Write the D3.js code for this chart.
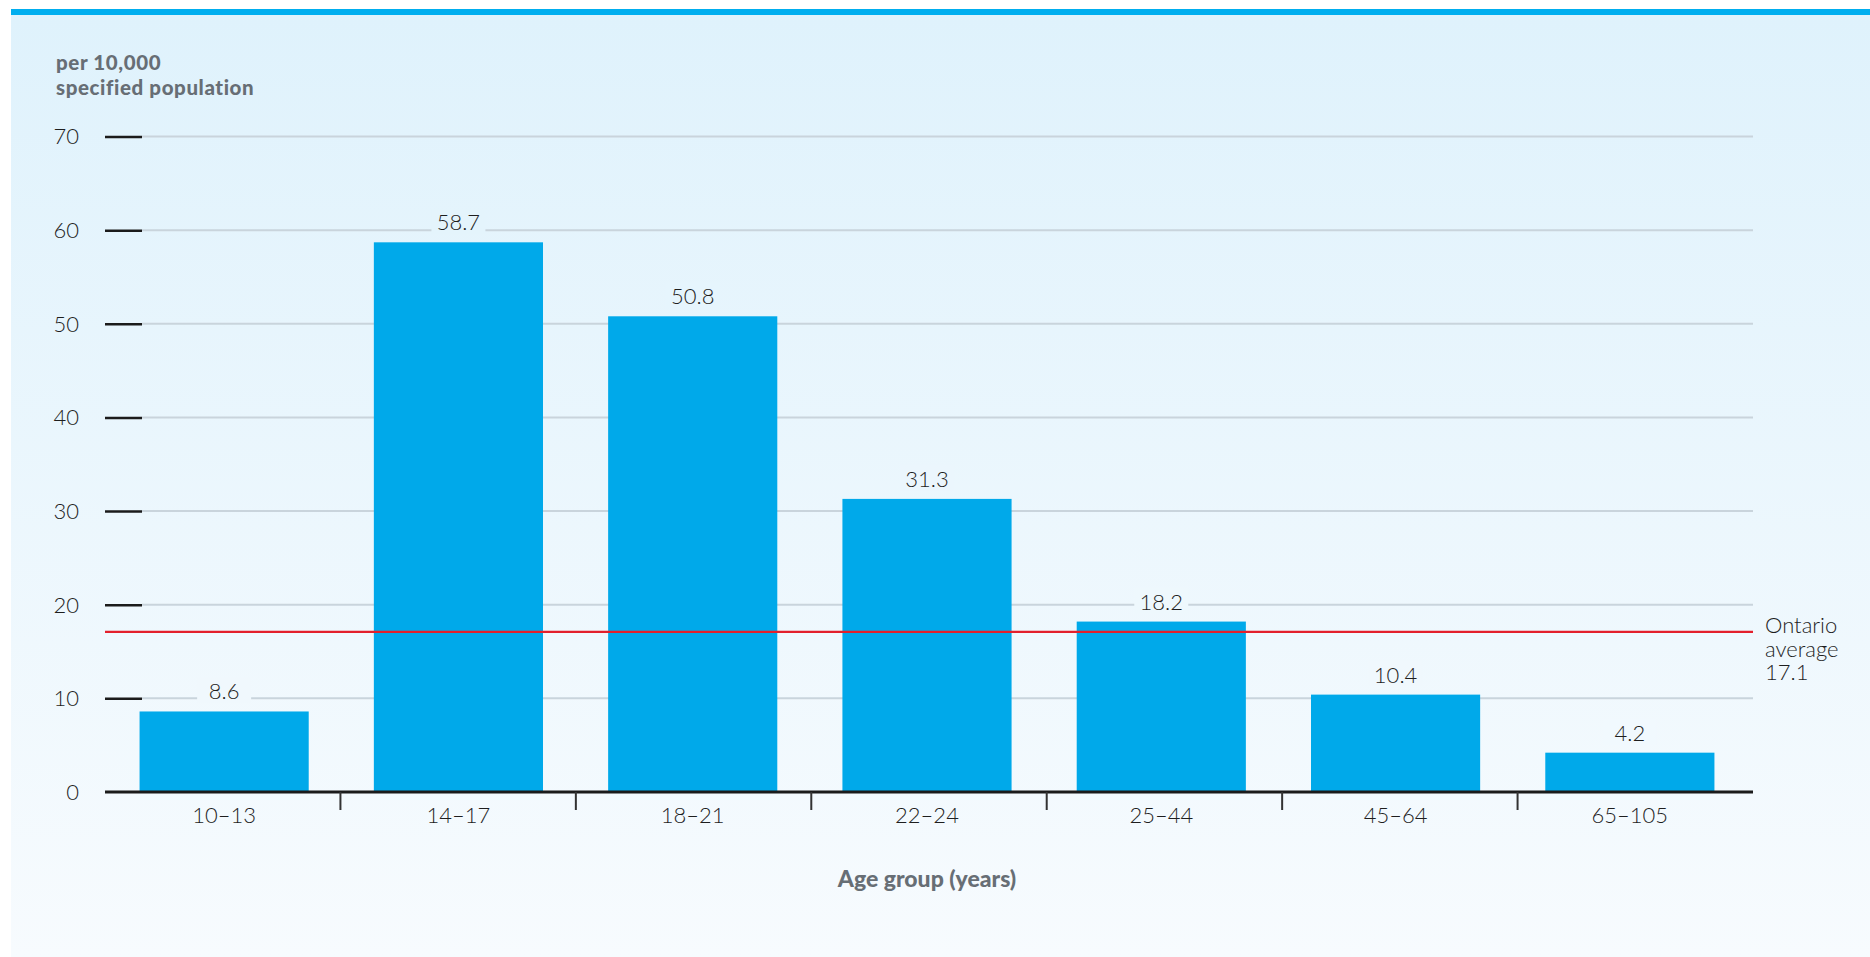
<!DOCTYPE html>
<html><head><meta charset="utf-8">
<script src="https://cdn.jsdelivr.net/npm/d3@7"></script>
<style>html,body{margin:0;padding:0;background:#fff;overflow:hidden}</style>
</head><body>
<svg id="c" width="1870" height="957"></svg>
<script>
const categories = ["10–13","14–17","18–21","22–24","25–44","45–64","65–105"];
const values = [8.6, 58.7, 50.8, 31.3, 18.2, 10.4, 4.2];
const yTicks = [0,10,20,30,40,50,60,70];
const ontarioAverage = 17.1;
const ontarioLabel = ["Ontario","average","17.1"];
const yTitle = ["per 10,000","specified population"];
const xTitle = "Age group (years)";

(function(){
const svg = d3.select("#c");
const defs = svg.append("defs");
const g = defs.append("linearGradient").attr("id","bg").attr("x1",0).attr("y1",0).attr("x2",0).attr("y2",1);
g.append("stop").attr("offset","0%").attr("stop-color","#dff2fc");
g.append("stop").attr("offset","100%").attr("stop-color","#f7fbfe");
svg.append("rect").attr("x",11).attr("y",15).attr("width",1859).attr("height",942).attr("fill","url(#bg)");
svg.append("rect").attr("x",11).attr("y",9).attr("width",1859).attr("height",6).attr("fill","#00aeef");

const pl=105, pr=1753, pt=136.5, pb=792;
const xAxisScale = d3.scaleBand().domain(categories).range([pl,pr]);
const x = d3.scaleBand().domain(categories).range([107,1747]).paddingInner(0.278).paddingOuter(0.139);
const y = d3.scaleLinear().domain([0,70]).range([pb,pt]);
const font = "Lato, 'Open Sans', sans-serif";
const lightW = 300;

// gridlines
svg.append("g").selectAll("line").data(yTicks.filter(d=>d>0)).join("line")
  .attr("x1",142).attr("x2",pr).attr("y1",d=>y(d)).attr("y2",d=>y(d))
  .attr("stroke","#c9d4dc").attr("stroke-width",2);

// y axis ticks & labels
const yAxis = svg.append("g").attr("transform",`translate(${pl},0)`)
  .call(d3.axisRight(y).tickValues(yTicks.filter(d=>d>0)).tickSize(37).tickFormat(""));
yAxis.select(".domain").remove();
yAxis.selectAll(".tick line").attr("stroke","#1b1b1b").attr("stroke-width",2.5);
svg.append("g").selectAll("text").data(yTicks).join("text")
  .attr("x",79).attr("y",d=>y(d)).attr("dy","0.36em").attr("text-anchor","end")
  .attr("font-family",font).attr("font-weight",lightW).attr("font-size",22).attr("fill","#1e1e1e").text(d=>d);

// bars
svg.append("g").selectAll("rect").data(values).join("rect")
  .attr("x",(d,i)=>x(categories[i])).attr("width",x.bandwidth())
  .attr("y",d=>y(d)).attr("height",d=>pb-y(d)).attr("fill","#00a9ea");

// value labels with background patch
const bgColor = d3.interpolateRgb("#dff2fc","#f7fbfe");
const lab = svg.append("g").selectAll("g").data(values).join("g");
lab.append("rect")
  .attr("x",(d,i)=>x(categories[i])+x.bandwidth()/2-27).attr("width",54)
  .attr("y",d=>y(d)-34).attr("height",26)
  .attr("fill",d=>bgColor((y(d)-24-15)/942));
lab.append("text")
  .attr("x",(d,i)=>x(categories[i])+x.bandwidth()/2).attr("y",d=>y(d)-12)
  .attr("text-anchor","middle").attr("font-family",font).attr("font-weight",lightW).attr("font-size",22)
  .attr("fill","#1e1e1e").text(d=>d.toFixed(1));

// x axis line
svg.append("line").attr("x1",pl).attr("x2",pr).attr("y1",pb).attr("y2",pb)
  .attr("stroke","#1b1b1b").attr("stroke-width",3);
// separators between categories
svg.append("g").selectAll("line").data(categories.slice(1)).join("line")
  .attr("x1",d=>xAxisScale(d)).attr("x2",d=>xAxisScale(d))
  .attr("y1",pb).attr("y2",pb+18).attr("stroke","#333").attr("stroke-width",2);
svg.append("g").selectAll("text").data(categories).join("text")
  .attr("x",d=>x(d)+x.bandwidth()/2).attr("y",823).attr("text-anchor","middle")
  .attr("font-family",font).attr("font-weight",lightW).attr("font-size",22).attr("fill","#1e1e1e").text(d=>d);

// Ontario average
svg.append("line").attr("x1",pl).attr("x2",pr).attr("y1",y(ontarioAverage)).attr("y2",y(ontarioAverage))
  .attr("stroke","#e3202c").attr("stroke-width",2.2);
svg.append("g").selectAll("text").data(ontarioLabel).join("text")
  .attr("x",1765).attr("y",(d,i)=>633+i*23.5)
  .attr("font-family",font).attr("font-weight",lightW).attr("font-size",22)
  .attr("fill","#1e1e1e").text(d=>d);

// titles
svg.append("g").selectAll("text").data(yTitle).join("text")
  .attr("x",56).attr("y",(d,i)=>70+i*25)
  .attr("font-family",font).attr("font-weight",900).attr("font-size",20.5)
  .attr("fill","#676e75").attr("letter-spacing","0.6").text(d=>d);
svg.append("text").attr("x",927).attr("y",887).attr("text-anchor","middle")
  .attr("font-family",font).attr("font-weight",900).attr("font-size",23)
  .attr("fill","#676e75").text(xTitle);
})();
</script>
</body></html>
